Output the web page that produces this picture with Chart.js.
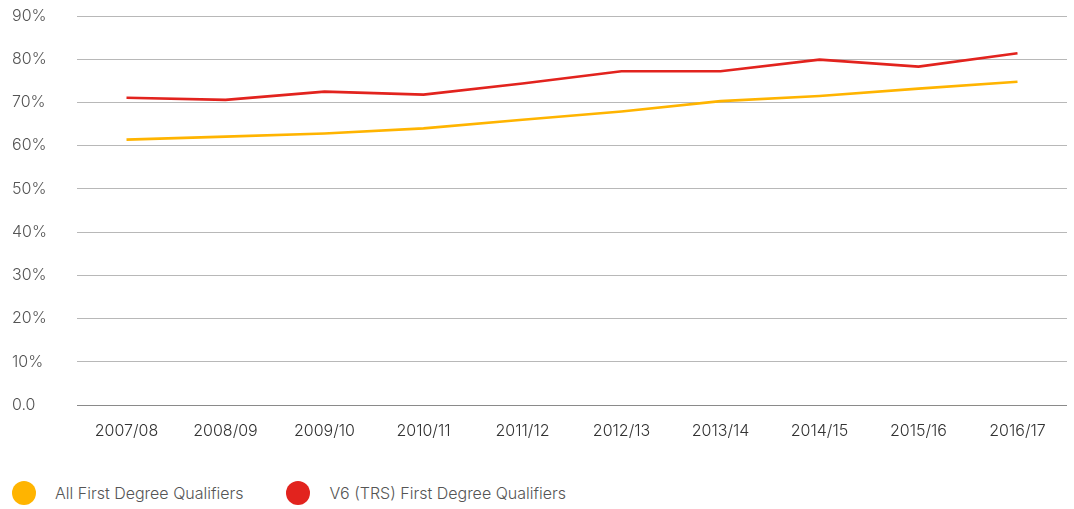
<!DOCTYPE html>
<html>
<head>
<meta charset="utf-8">
<title>First Degree Qualifiers</title>
<script src="https://cdn.jsdelivr.net/npm/chart.js@4.4.1/dist/chart.umd.min.js"></script>
<style>
    html, body {
        margin: 0;
        padding: 0;
        background: #fff;
        font-family: Inter, "Open Sans", sans-serif;
    }
    #wrap {
        position: relative;
        width: 1074px;
        height: 509px;
    }
    #chartBox {
        position: absolute;
        left: 0;
        top: 0;
        width: 1074px;
        height: 460px;
    }
    #legend {
        position: absolute;
        left: 12px;
        top: 481px;
        display: flex;
        align-items: center;
        font-size: 16px;
        font-weight: 300;
        color: #555;
    }
    .legend-item {
        display: flex;
        align-items: center;
    }
    .legend-dot {
        width: 24px;
        height: 24px;
        border-radius: 50%;
        margin-right: 19px;
    }
</style>
</head>
<body>
<div id="wrap">
    <div id="chartBox"><canvas id="lineChart"></canvas></div>
    <div id="legend"></div>
</div>

<script>
// ============================================================================
// Data
// ============================================================================

const years = ['2007/08', '2008/09', '2009/10', '2010/11', '2011/12',
               '2012/13', '2013/14', '2014/15', '2015/16', '2016/17'];

const allQualifiers = [61.4, 62.1, 62.8, 64.0, 66.0, 67.9, 70.3, 71.5, 73.2, 74.8];
const v6Qualifiers  = [71.1, 70.6, 72.5, 71.8, 74.4, 77.2, 77.2, 79.9, 78.3, 81.4];

const yTickLabels = ['0.0', '10%', '20%', '30%', '40%', '50%', '60%', '70%', '80%', '90%'];

const seriesNames = ['All First Degree Qualifiers', 'V6 (TRS) First Degree Qualifiers'];
const seriesColors = ['#ffb400', '#e2231e'];

// ============================================================================
// Chart
// ============================================================================

function createLineChart(canvasId) {
    const ctx = document.getElementById(canvasId).getContext('2d');
    return new Chart(ctx, {
        type: 'line',
        data: {
            labels: years,
            datasets: [
                {
                    label: seriesNames[0],
                    data: allQualifiers,
                    borderColor: seriesColors[0],
                    backgroundColor: seriesColors[0],
                    borderWidth: 2.6,
                    pointRadius: 0,
                    tension: 0
                },
                {
                    label: seriesNames[1],
                    data: v6Qualifiers,
                    borderColor: seriesColors[1],
                    backgroundColor: seriesColors[1],
                    borderWidth: 2.6,
                    pointRadius: 0,
                    tension: 0
                }
            ]
        },
        options: {
            responsive: true,
            maintainAspectRatio: false,
            animation: false,
            layout: {
                padding: { left: 12, right: 7, top: 16, bottom: 0 }
            },
            plugins: {
                legend: { display: false },
                tooltip: { enabled: false }
            },
            scales: {
                x: {
                    offset: true,
                    grid: { display: false, drawTicks: false },
                    border: { display: false },
                    ticks: {
                        padding: 17,
                        color: '#333',
                        maxRotation: 0,
                        autoSkip: false,
                        font: { family: 'Inter', size: 16, weight: '300' }
                    },
                    afterFit: function(axis) { axis.height = 55; }
                },
                y: {
                    min: 0,
                    max: 90,
                    grid: {
                        drawTicks: false,
                        lineWidth: 1,
                        color: function(c) { return c.tick && c.tick.value === 0 ? '#8a8a8a' : '#b8b8b8'; }
                    },
                    border: { display: false },
                    ticks: {
                        stepSize: 10,
                        crossAlign: 'far',
                        padding: 0,
                        color: '#555',
                        font: { family: 'Inter', size: 16, weight: '300' },
                        callback: function(value, index) { return yTickLabels[index]; }
                    },
                    afterFit: function(axis) { axis.width = 65; }
                }
            }
        }
    });
}

// ============================================================================
// HTML legend
// ============================================================================

function buildLegend(containerId) {
    const box = document.getElementById(containerId);
    const offsets = [0, 43];
    seriesNames.forEach(function(name, i) {
        const item = document.createElement('div');
        item.className = 'legend-item';
        item.style.marginLeft = offsets[i] + 'px';
        item.innerHTML = '<span class="legend-dot" style="background:' + seriesColors[i] + '"></span>' +
                         '<span>' + name + '</span>';
        box.appendChild(item);
    });
}

document.addEventListener('DOMContentLoaded', function() {
    createLineChart('lineChart');
    buildLegend('legend');
});
</script>
</body>
</html>
